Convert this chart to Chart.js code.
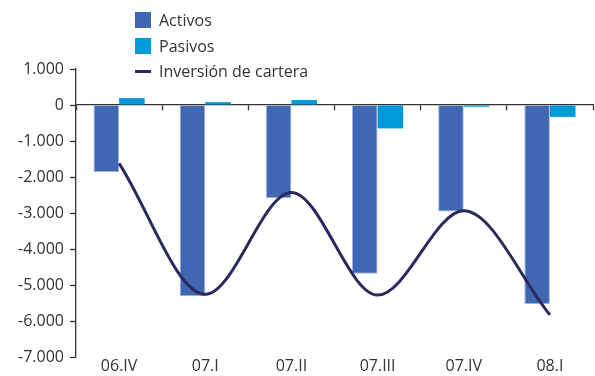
<!DOCTYPE html>
<html>
<head>
<meta charset="utf-8">
<script src="https://cdn.jsdelivr.net/npm/chart.js@4"></script>
<style>
  body { margin: 0; background: #fff; }
  #wrap { position: relative; width: 595px; height: 376px; }
  #legend { position: absolute; left: 135px; top: 8px; font-family: "Open Sans", sans-serif; font-size: 16px; color: #333; }
  .item { height: 25.5px; line-height: 25px; white-space: nowrap; }
  .box { display: inline-block; width: 16px; height: 16px; vertical-align: -2px; margin-right: 8px; }
  .ln { display: inline-block; width: 16px; height: 3px; vertical-align: 4px; margin-right: 8px; }
</style>
</head>
<body>
<div id="wrap">
  <canvas id="myChart" width="595" height="376"></canvas>
  <div id="legend"></div>
</div>
<script>
  const labels = ['06.IV', '07.I', '07.II', '07.III', '07.IV', '08.I'];
  const activos = [-1860, -5310, -2590, -4690, -2960, -5530];
  const pasivos = [190, 80, 140, -650, -50, -330];
  const inversion = [-1620, -5260, -2430, -5280, -2940, -5830];

  const colActivos = '#4068b2';
  const colPasivos = '#0099da';
  const colLinea = '#2b2a5e';

  const fmt = (v) => {
    const s = Math.abs(v).toString().replace(/\B(?=(\d{3})+(?!\d))/g, '.');
    return (v < 0 ? '-' : '') + s;
  };

  const data = {
    labels: labels,
    datasets: [
      {
        type: 'line',
        label: 'Inversión de cartera',
        data: inversion,
        borderColor: colLinea,
        borderWidth: 3,
        pointRadius: 0,
        cubicInterpolationMode: 'monotone',
        order: 0,
      },
      {
        label: 'Activos',
        data: activos,
        backgroundColor: colActivos,
        borderColor: '#9db2dc',
        borderWidth: 1,
        order: 1,
      },
      {
        label: 'Pasivos',
        data: pasivos,
        backgroundColor: colPasivos,
        order: 1,
      },
    ]
  };

  const font = { family: '"Open Sans", sans-serif', size: 16 };

  const config = {
    type: 'bar',
    data: data,
    options: {
      responsive: false,
      animation: false,
      datasets: {
        bar: { categoryPercentage: 0.594, barPercentage: 1 }
      },
      layout: { padding: { top: 69, right: 2, left: 0, bottom: 0 } },
      plugins: { legend: { display: false }, tooltip: { enabled: false } },
      scales: {
        x: {
          grid: { display: false, drawTicks: false, tickLength: 0 },
          border: { display: false },
          ticks: { font: font, color: '#333', padding: 0, maxRotation: 0 },
          afterFit: (s) => { s.height = 19; },
        },
        x2: {
          type: 'category',
          position: { y: 0 },
          grid: { offset: true, drawOnChartArea: false, tickLength: 5, color: '#333', tickWidth: 1.3 },
          border: { display: true, color: '#333', width: 1.3 },
          ticks: { display: false },
        },
        y: {
          min: -7000,
          max: 1000,
          ticks: { stepSize: 1000, font: font, color: '#333', padding: 6, callback: (v) => fmt(v) },
          grid: { drawOnChartArea: false, tickLength: 6, color: '#333', tickWidth: 1.3 },
          border: { display: true, color: '#333', width: 1.3 },
          afterFit: (s) => { s.width = 76; },
        }
      }
    }
  };

  const myChart = new Chart(document.getElementById('myChart'), config);

  const legend = document.getElementById('legend');
  [['Activos', colActivos, 'box'], ['Pasivos', colPasivos, 'box'], ['Inversión de cartera', colLinea, 'ln']].forEach(([t, c, k]) => {
    const d = document.createElement('div');
    d.className = 'item';
    d.innerHTML = '<span class="' + k + '" style="background:' + c + '"></span>' + t;
    legend.appendChild(d);
  });
</script>
</body>
</html>
